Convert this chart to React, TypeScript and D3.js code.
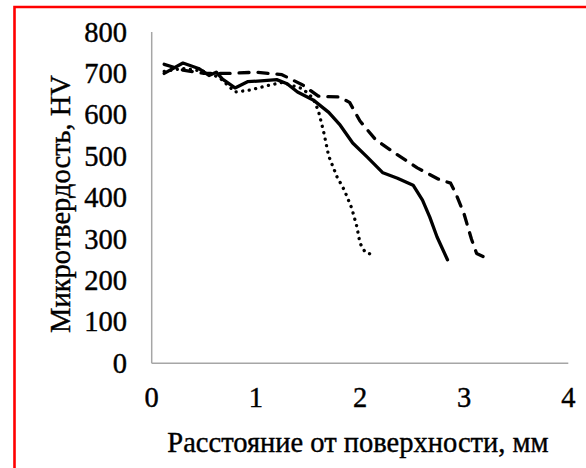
import React from "react";
import * as d3 from "d3";

const xTicks = [0, 1, 2, 3, 4];
const yTicks = [0, 100, 200, 300, 400, 500, 600, 700, 800];

const solidX = [0.12, 0.3, 0.45, 0.55, 0.62, 0.68, 0.8, 0.92, 1.05, 1.2, 1.3, 1.4, 1.55, 1.7, 1.81, 1.93, 2.07, 2.22, 2.36, 2.51, 2.6, 2.67, 2.74, 2.84];
const solidY = [700, 725, 712, 695, 703, 686, 665, 680, 682, 685, 675, 655, 636, 606, 575, 532, 498, 460, 447, 430, 394, 353, 305, 250];

const dashedX = [0.12, 0.3, 0.5, 0.75, 1.0, 1.25, 1.45, 1.6, 1.8, 1.9, 2.0, 2.15, 2.35, 2.55, 2.75, 2.87, 2.92, 3.0, 3.07, 3.12, 3.25];
const dashedY = [722, 708, 700, 700, 703, 697, 672, 645, 643, 630, 585, 540, 505, 472, 445, 435, 410, 360, 300, 265, 250];

const dottedX = [0.12, 0.3, 0.5, 0.65, 0.8, 0.95, 1.1, 1.25, 1.45, 1.55, 1.6, 1.65, 1.7, 1.78, 1.85, 1.92, 1.97, 2.0, 2.05, 2.12];
const dottedY = [705, 712, 705, 690, 655, 660, 670, 678, 663, 640, 610, 560, 500, 450, 418, 375, 330, 290, 268, 262];

const FONT = "'Liberation Serif', 'Times New Roman', serif";
const textStyle = { fontFamily: FONT, fontSize: 28.5, fill: "#000", stroke: "#000", strokeWidth: 0.4 };

export default function App() {
  const x = d3.scaleLinear().domain([0, 4]).range([151.7, 568.3]);
  const y = d3.scaleLinear().domain([0, 800]).range([363.3, 32]);
  const line = d3
    .line<[number, number]>()
    .x((d) => x(d[0]))
    .y((d) => y(d[1]));
  const pts = (xs: number[], ys: number[]) => xs.map((v, i) => [v, ys[i]] as [number, number]);

  return (
    <svg
      width={586}
      height={468}
      style={{ position: "absolute", left: 0, top: 0, background: "#fff" }}
    >
      <rect x={0} y={0} width={586} height={468} fill="#fff" />
      <path d="M14.5,480 L14.5,7 L600,7" fill="none" stroke="#ff0000" strokeWidth={2.6} />
      {/* axes */}
      <line x1={x(0)} x2={x(0)} y1={y(0)} y2={y(800)} stroke="#a6a6a6" strokeWidth={1.5} />
      <line x1={x(0)} x2={x(4)} y1={y(0)} y2={y(0)} stroke="#a6a6a6" strokeWidth={1.5} />
      {yTicks.map((t) => (
        <text key={"y" + t} x={127} y={y(t) + 9.5} textAnchor="end" style={textStyle}>
          {t}
        </text>
      ))}
      {xTicks.map((t) => (
        <text key={"x" + t} x={x(t)} y={407} textAnchor="middle" style={textStyle}>
          {t}
        </text>
      ))}
      <text x={358} y={452} textAnchor="middle" style={textStyle}>
        Расстояние от поверхности, мм
      </text>
      <text transform="translate(70,204) rotate(-90)" textAnchor="middle" style={textStyle}>
        Микротвердость, HV
      </text>
      {/* series */}
      <path d={line(pts(dottedX, dottedY)) || ""} fill="none" stroke="#000" strokeWidth={3.3} strokeDasharray="0.1 6.5" strokeLinecap="round" strokeLinejoin="round" />
      <path d={line(pts(dashedX, dashedY)) || ""} fill="none" stroke="#000" strokeWidth={3.3} strokeDasharray="10 9" strokeLinecap="round" strokeLinejoin="round" />
      <path d={line(pts(solidX, solidY)) || ""} fill="none" stroke="#000" strokeWidth={3.3} strokeLinecap="round" strokeLinejoin="round" />
    </svg>
  );
}
